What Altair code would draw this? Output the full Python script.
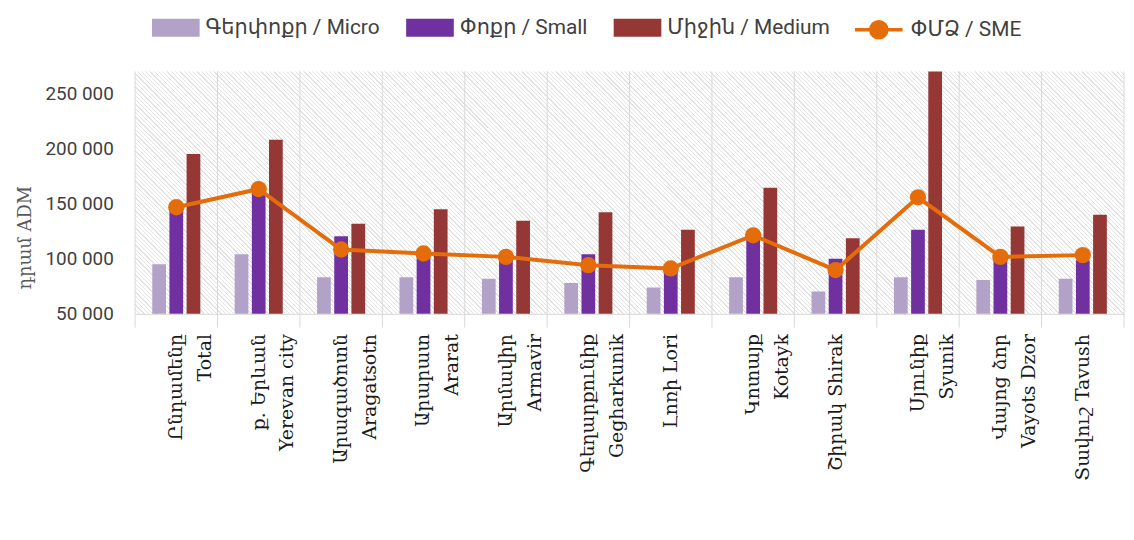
import altair as alt
import pandas as pd

# ---------------- data ----------------
categories = [
    "Ընդամենը|Total", "ք. Երևան|Yerevan city", "Արագածոտն|Aragatsotn",
    "Արարատ|Ararat", "Արմավիր|Armavir", "Գեղարքունիք|Gegharkunik",
    "Լոռի Lori", "Կոտայք|Kotayk", "Շիրակ Shirak", "Սյունիք|Syunik",
    "Վայոց ձոր|Vayots Dzor", "Տավուշ Tavush",
]
series = ["Գերփոքր / Micro", "Փոքր / Small", "Միջին / Medium"]
line_name = "ՓՄՁ / SME"
micro = [95000, 104000, 83000, 83000, 81800, 77900, 73700, 83000, 70100, 83000, 80600, 81800]
small = [145000, 162000, 120300, 101000, 98500, 104000, 88000, 117000, 99800, 126300, 98500, 98500]
medium = [195000, 208000, 131700, 144900, 134400, 142200, 126300, 164400, 118500, 272000, 129300, 139800]
sme = [146700, 163200, 108300, 104700, 101600, 94100, 91100, 121200, 89600, 155700, 101600, 103200]
y_ticks = [50000, 100000, 150000, 200000, 250000]
y_domain = [50000, 270000]

bar_colors = ["#B3A2C7", "#7030A0", "#953735"]
line_color = "#E46C0A"

rows = []
for i, c in enumerate(categories):
    for s, vals in zip(series, [micro, small, medium]):
        rows.append({"cat": c, "series": s, "value": vals[i]})
bar_df = pd.DataFrame(rows)
sme_df = pd.DataFrame({"cat": categories, "series": [line_name] * len(categories), "value": sme})
cat_df = pd.DataFrame({"cat": categories})
one_df = pd.DataFrame({"a": [0]})

W, H = 996, 244
SANS = "Liberation Sans Narrow, Roboto, DejaVu Sans, sans-serif"
SERIF = "DejaVu Serif, Liberation Serif, serif"

# hatched background via a striped linear gradient (style only)
N = 288
w = 0.3 / N
stripe = "#E2E2E2"
stops = []
for k in range(N):
    a = k / N
    stops += [
        alt.GradientStop(offset=a, color=stripe),
        alt.GradientStop(offset=a + w, color=stripe),
        alt.GradientStop(offset=a + w, color="#FFFFFF"),
        alt.GradientStop(offset=(k + 1) / N, color="#FFFFFF"),
    ]
hatch = alt.LinearGradient(gradient="linear", stops=stops, x1=0, y1=1, x2=1.1745, y2=0.7122)

xscale = alt.Scale(paddingInner=0, paddingOuter=0)
xaxis = alt.Axis(
    title=None, labelAngle=-90, labelExpr="split(datum.label, '|')",
    labelFont=SERIF, labelFontSize=19, labelColor="#1a1a1a", labelPadding=20,
    labelAlign="right", labelBaseline="middle", labelLineHeight=29, labelLimit=400,
    ticks=False, grid=False, domainColor="#D9D9D9",
)
yscale = alt.Scale(domain=y_domain, zero=False, nice=False)
yaxis = alt.Axis(
    values=y_ticks, labelExpr="replace(format(datum.value, ','), ',', ' ')",
    title="դրամ ADM", titleFont=SERIF, titleFontSize=18, titleFontWeight="normal",
    titleColor="#595959", titleX=-101, titleY=167,
    grid=True, gridColor="#D9D9D9", domain=False, ticks=False,
    labelFont=SANS, labelFontSize=19, labelColor="#404040", labelPadding=22,
)

X = lambda **kw: alt.X("cat:N", sort=categories, scale=xscale, axis=xaxis, **kw)
Y = alt.Y("value:Q", scale=yscale, axis=yaxis)

bg = alt.Chart(one_df).mark_rect(fill=hatch).encode(
    x=alt.value(0), x2=alt.value(W), y=alt.value(0), y2=alt.value(H)
)
vrules = alt.Chart(cat_df).mark_rule(color="#D9D9D9", strokeWidth=1).encode(
    x=X(bandPosition=0), y=alt.value(0), y2=alt.value(H + 14)
)
edge = alt.Chart(one_df).mark_rule(color="#D9D9D9", strokeWidth=1).encode(
    x=alt.value(W), y=alt.value(0), y2=alt.value(H + 14)
)

bar_legend = alt.Legend(
    title=None, orient="none", legendX=23, legendY=-62, direction="horizontal",
    symbolType="M-1.333,-0.5H1.333V0.5H-1.333Z", symbolSize=1296, symbolStrokeWidth=0,
    labelFont=SANS, labelFontSize=21, labelColor="#404040", labelOffset=12,
    columnPadding=26, labelLimit=400,
)
bars = alt.Chart(bar_df).mark_bar(clip=True).encode(
    x=X(),
    xOffset=alt.XOffset("series:N", sort=series, scale=alt.Scale(paddingInner=0.2, paddingOuter=1.0)),
    y=Y,
    color=alt.Color("series:N", sort=series, scale=alt.Scale(domain=series, range=bar_colors), legend=bar_legend),
)

line = alt.Chart(sme_df).mark_line(color=line_color, strokeWidth=4).encode(x=X(), y=Y)
line_legend = alt.Legend(
    title=None, orient="none", legendX=729, legendY=-62,
    symbolType="M-1.333,0H1.333M0.45,0A0.45,0.45,0,1,1,-0.45,0A0.45,0.45,0,1,1,0.45,0",
    symbolSize=1296, symbolStrokeColor=line_color, symbolStrokeWidth=3.5,
    symbolFillColor=line_color, symbolOpacity=1,
    labelFont=SANS, labelFontSize=21, labelColor="#404040", labelOffset=12, labelLimit=400,
)
points = alt.Chart(sme_df).mark_circle(size=270, opacity=1).encode(
    x=X(), y=Y,
    color=alt.Color("series:N", scale=alt.Scale(domain=[line_name], range=[line_color]), legend=line_legend),
)

chart = alt.layer(bg, vrules, edge, bars, line, points).resolve_scale(
    color="independent"
).properties(
    width=W, height=H,
    autosize=alt.AutoSizeParams(type="none"),
    padding={"left": 128, "top": 62, "right": 2, "bottom": 224},
).configure_view(stroke=None)

chart.save("out.html", embed_options={"renderer": "svg", "actions": False})
